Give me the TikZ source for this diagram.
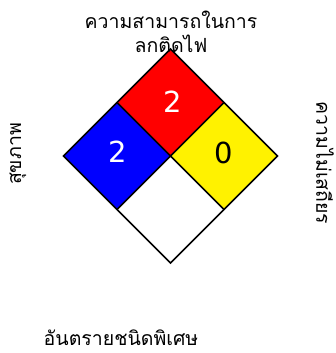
\documentclass[tikz,border=0pt]{standalone}
\usepackage{fontspec}
\usetikzlibrary{calc}
\newfontfamily\thaifont[Script=Thai]{Loma}
\newfontfamily\numfont{DejaVu Sans}
\begin{document}
\begin{tikzpicture}[x=1pt,y=-1pt,
  cell/.style={draw=black, line width=1.7pt, line join=miter},
  num/.style={font=\numfont\fontsize{29}{29}\selectfont, inner sep=0pt},
  lbl/.style={font=\thaifont\fontsize{19.5}{24}\selectfont, align=center, inner sep=0pt}]
\useasboundingbox (0,0) rectangle (335,353);
\coordinate (C) at (170.5,156);
\coordinate (T) at (170.5,49);
\coordinate (R) at (277.5,156);
\coordinate (B) at (170.5,263);
\coordinate (L) at (63.5,156);
\coordinate (TR) at ($(T)!0.5!(R)$);
\coordinate (BR) at ($(B)!0.5!(R)$);
\coordinate (BL) at ($(B)!0.5!(L)$);
\coordinate (TL) at ($(T)!0.5!(L)$);
\fill[red] (T) -- (TR) -- (C) -- (TL) -- cycle;
\fill[blue] (L) -- (TL) -- (C) -- (BL) -- cycle;
\fill[yellow] (R) -- (TR) -- (C) -- (BR) -- cycle;
\fill[white] (B) -- (BL) -- (C) -- (BR) -- cycle;
\draw[cell] (T) -- (R) -- (B) -- (L) -- cycle;
\draw[cell] (TL) -- (BR) (TR) -- (BL);
\node[num, text=white] (flam) at (173,102) {2};
\node[num, text=white] (health) at (118,152) {2};
\node[num, text=black] (inst) at (224,153) {0};
\node[lbl] (top) at (171,32) {ความสามารถในการ\\ลกติดไฟ};
\node[lbl, rotate=90] (left) at (18,154) {สุขภาพ};
\node[lbl, rotate=-90] (right) at (325,163) {ความไม่เสถียร};
\node[lbl] (bottom) at (121,338) {อันตรายชนิดพิเศษ};
\end{tikzpicture}
\end{document}
